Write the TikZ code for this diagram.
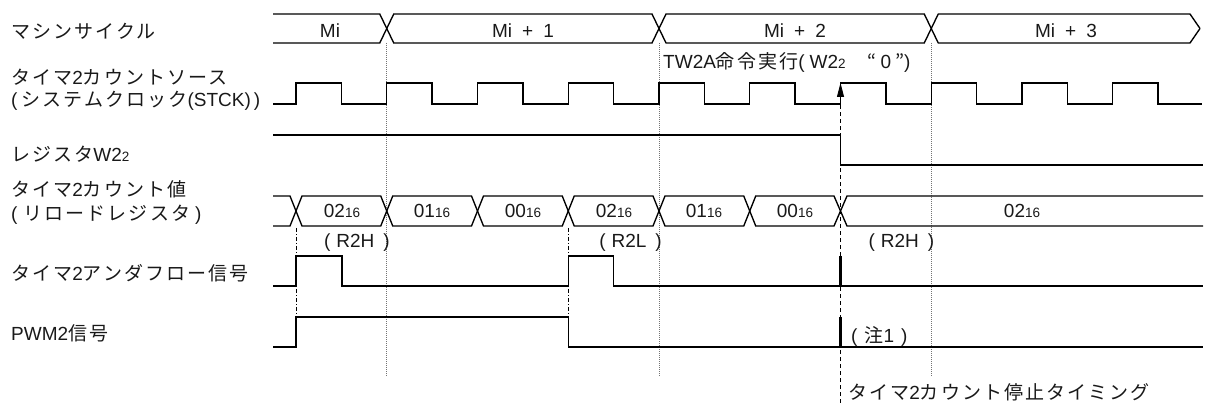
\documentclass[tikz,border=0pt]{standalone}
\usepackage{fontspec}
\setmainfont{Liberation Sans}
\newfontfamily\jp[LetterSpace=11]{Noto Sans CJK JP}
\usetikzlibrary{arrows.meta}
\newcommand{\sm}[1]{{\fontsize{13.5pt}{14pt}\selectfont #1}}
\begin{document}
\begin{tikzpicture}[x=1pt,y=-1pt,
  sig/.style={line width=1.35pt, line join=miter},
  txt/.style={font=\fontsize{19pt}{22pt}\selectfont, inner sep=0pt, text=black!90},
  gridline/.style={black!55, line width=0.7pt, dash pattern=on 1pt off 1pt},
  dashdot/.style={line width=0.8pt, dash pattern=on 4pt off 2pt on 1pt off 2pt},
  stopline/.style={line width=0.9pt, dash pattern=on 4pt off 3pt},
  pulsebar/.style={line width=3pt}]
\useasboundingbox (0,0) rectangle (1205,403);

% left labels
\node[txt, anchor=base west] (l1) at (11,38.5) {\jp マシンサイクル};
\node[txt, anchor=base west] (l2a) at (11,85) {{\jp タイマ}2{\jp カウントソース}};
\node[txt, anchor=base west] (l2b) at (11,106.5) {(\hspace{4pt}{\jp システムクロック}(STCK)\hspace{3pt})};
\node[txt, anchor=base west] (l3) at (11,162) {{\jp レジスタ}W2\sm{2}};
\node[txt, anchor=base west] (l4a) at (11,197) {{\jp タイマ}2{\jp カウント値}};
\node[txt, anchor=base west] (l4b) at (11,221) {(\hspace{6pt}{\jp リロードレジスタ}\hspace{5pt})};
\node[txt, anchor=base west] (l5) at (11,281) {{\jp タイマ}2{\jp アンダフロー信号}};
\node[txt, anchor=base west] (l6) at (11,341) {PWM2{\jp 信号}};

% grid lines
\foreach \t in {386.75,659,931.25} \draw[gridline] (\t,43) -- (\t,376);

% machine cycle
\draw[sig] (273,14) -- (379.75,14) -- (393.75,43) -- (652,43) -- (666,14) -- (924.25,14) -- (938.25,43) -- (1190,43) -- (1200,28.5);
\draw[sig] (273,43) -- (379.75,43) -- (393.75,14) -- (652,14) -- (666,43) -- (924.25,43) -- (938.25,14) -- (1190,14) -- (1200,28.5);
\node[txt, anchor=base] (m0) at (330,37.5) {Mi};
\node[txt, anchor=base] (m1) at (523,37.5) {Mi\hspace{10pt}+\hspace{10pt}1};
\node[txt, anchor=base] (m2) at (795,37.5) {Mi\hspace{10pt}+\hspace{10pt}2};
\node[txt, anchor=base] (m3) at (1066,37.5) {Mi\hspace{10pt}+\hspace{10pt}3};

% clock
\draw[sig] (273,104) \foreach \k in {0,...,9} { -- ({296+90.75*\k},104) -- ({296+90.75*\k},83) -- ({341.4+90.75*\k},83) -- ({341.4+90.75*\k},104) } -- (1202,104);
\node[txt, anchor=base west] (tw) at (663,69) {TW2A{\jp 命令実行}(\hspace{5pt}W2\sm{2}\hspace{22pt}{\jp “}\hspace{4pt}0\hspace{4pt}{\jp ”})};

% register W22
\draw[sig] (273,135) -- (840.5,135) -- (840.5,165) -- (1203,165);

% count value
\draw[sig] (273,196) -- (290,196) -- (302,226) -- (380.75,226) -- (392.75,196) -- (471.5,196) -- (483.5,226) -- (562.25,226) -- (574.25,196) -- (653,196) -- (665,226) -- (743.75,226) -- (755.75,196) -- (834,196) -- (847,226) -- (1203,226);
\draw[sig] (273,226) -- (290,226) -- (302,196) -- (380.75,196) -- (392.75,226) -- (471.5,226) -- (483.5,196) -- (562.25,196) -- (574.25,226) -- (653,226) -- (665,196) -- (743.75,196) -- (755.75,226) -- (834,226) -- (847,196) -- (1203,196);
\node[txt, anchor=base] (c0) at (342,218) {02\sm{16}};
\node[txt, anchor=base] (c1) at (432,218) {01\sm{16}};
\node[txt, anchor=base] (c2) at (523,218) {00\sm{16}};
\node[txt, anchor=base] (c3) at (614,218) {02\sm{16}};
\node[txt, anchor=base] (c4) at (704,218) {01\sm{16}};
\node[txt, anchor=base] (c5) at (795,218) {00\sm{16}};
\node[txt, anchor=base] (c6) at (1022,218) {02\sm{16}};
\node[txt, anchor=base east] (r0) at (390,248) {(\hspace{6pt}R2H\hspace{9pt})};
\node[txt, anchor=base east] (r1) at (662,248) {(\hspace{6pt}R2L\hspace{9pt})};
\node[txt, anchor=base east] (r2) at (934.5,248) {(\hspace{6pt}R2H\hspace{9pt})};

% underflow
\draw[sig] (273,286) -- (296,286) -- (296,256) -- (342,256) -- (342,286) -- (568.25,286) -- (568.25,256) -- (613.5,256) -- (613.5,286) -- (1203,286);
\draw[pulsebar] (840.5,256) -- (840.5,287);

% PWM
\draw[sig] (273,347) -- (296,347) -- (296,317) -- (568.25,317) -- (568.25,347) -- (1203,347);
\draw[pulsebar] (840.5,317) -- (840.5,348);
\node[txt, anchor=base west] (n1) at (851,343) {(\hspace{7pt}{\jp 注}1\hspace{7pt})};

% dash-dot verticals
\foreach \t in {296,568.25} {
  \draw[dashdot] (\t,228) -- (\t,253);
  \draw[dashdot] (\t,289) -- (\t,314);
}

% stop timing
\coordinate (stopB) at (840.5,403);
\coordinate (stopA) at (840.5,97);
\coordinate (stopT) at (840.5,83);
\draw[stopline] (stopB) -- (stopA);
\draw[line width=0.9pt, -{Triangle[length=14pt,width=7pt]}] (stopA) -- (stopT);
\node[txt, anchor=base west] (st) at (848,399) {{\jp タイマ}2{\jp カウント停止タイミング}};
\end{tikzpicture}
\end{document}
